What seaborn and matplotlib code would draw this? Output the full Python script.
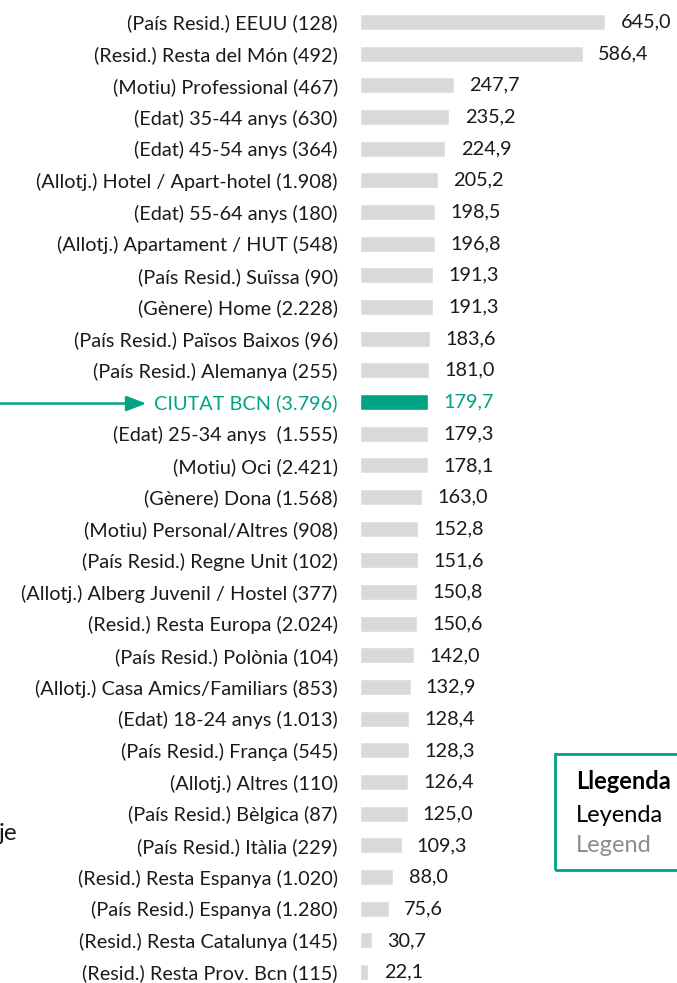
import numpy as np
import pandas as pd
import seaborn as sns
import matplotlib.pyplot as plt
from matplotlib.patches import Rectangle

labels = ['(País Resid.) EEUU (128)', '(Resid.) Resta del Món (492)', '(Motiu) Professional (467)',
          '(Edat) 35-44 anys (630)', '(Edat) 45-54 anys (364)', '(Allotj.) Hotel / Apart-hotel (1.908)',
          '(Edat) 55-64 anys (180)', '(Allotj.) Apartament / HUT (548)', '(País Resid.) Suïssa (90)',
          '(Gènere) Home (2.228)', '(País Resid.) Països Baixos (96)', '(País Resid.) Alemanya (255)',
          'CIUTAT BCN (3.796)', '(Edat) 25-34 anys  (1.555)', '(Motiu) Oci (2.421)',
          '(Gènere) Dona (1.568)', '(Motiu) Personal/Altres (908)', '(País Resid.) Regne Unit (102)',
          '(Allotj.) Alberg Juvenil / Hostel (377)', '(Resid.) Resta Europa (2.024)',
          '(País Resid.) Polònia (104)', '(Allotj.) Casa Amics/Familiars (853)', '(Edat) 18-24 anys (1.013)',
          '(País Resid.) França (545)', '(Allotj.) Altres (110)', '(País Resid.) Bèlgica (87)',
          '(País Resid.) Itàlia (229)', '(Resid.) Resta Espanya (1.020)', '(País Resid.) Espanya (1.280)',
          '(Resid.) Resta Catalunya (145)', '(Resid.) Resta Prov. Bcn (115)']
values = [645.0, 586.4, 247.7, 235.2, 224.9, 205.2, 198.5, 196.8, 191.3, 191.3, 183.6, 181.0,
          179.7, 179.3, 178.1, 163.0, 152.8, 151.6, 150.8, 150.6, 142.0, 132.9, 128.4, 128.3,
          126.4, 125.0, 109.3, 88.0, 75.6, 30.7, 22.1]
highlight = 'CIUTAT BCN (3.796)'
legend_lines = ['Llegenda', 'Leyenda', 'Legend']

teal = '#00A383'
grey = '#D9D9D9'

sns.set_style('white')
plt.rcParams['font.family'] = ['Lato', 'DejaVu Sans']

df = pd.DataFrame({'label': labels, 'value': values})
colors = {l: (teal if l == highlight else grey) for l in labels}

W, H = 677, 983
fig = plt.figure(figsize=(W / 100, H / 100), dpi=100)
# axes: x from 360px to right edge, rows ~31.67 px apart, first row at y=22
step = 31.67
top = 22 - step / 2
ax = fig.add_axes([360 / W, 1 - (top + 31 * step) / H, 1 - 360 / W, 31 * step / H])
sns.barplot(data=df, x='value', y='label', hue='label', palette=colors, legend=False,
            width=0.505, ax=ax, saturation=1)
ax.set_xlim(0, 317 / 0.38)
ax.set_ylim(len(labels) - 0.5, -0.5)
ax.set_xlabel('')
ax.set_ylabel('')
ax.set_xticks([])
sns.despine(ax=ax, left=True, bottom=True)
ax.tick_params(axis='y', length=0, pad=16, labelsize=14.3)
for t in ax.get_yticklabels():
    t.set_color(teal if t.get_text() == highlight else '#1a1a1a')

for cont, lab, v in zip(ax.containers, labels, values):
    ax.bar_label(cont, labels=[f'{v:.1f}'.replace('.', ',')], padding=11, fontsize=14.3,
                 color=teal if lab == highlight else '#1a1a1a')

# arrow pointing at the city label
fig.canvas.draw()
r = fig.canvas.get_renderer()
city = [t for t in ax.get_yticklabels() if t.get_text() == highlight][0]
bb = city.get_window_extent(r)
yc = (bb.y0 + bb.y1) / 2
ax.annotate('', xy=(bb.x0 - 8, yc), xytext=(0, yc), xycoords='figure pixels',
            textcoords='figure pixels',
            arrowprops=dict(arrowstyle='-|>,head_length=0.6,head_width=0.23', color=teal,
                            lw=1.8, mutation_scale=20, shrinkA=0, shrinkB=0))

fig.text(-0.002, 1 - 833 / H, 'je', fontsize=17.5, va='center', ha='left', color='#1a1a1a')

# legend box (cut off at right edge)
fig.add_artist(Rectangle((555 / W, 1 - 870 / H), 200 / W, 116 / H, transform=fig.transFigure,
                         fill=False, edgecolor=teal, lw=2))
for txt, base, col, wt in zip(legend_lines, [789, 822, 852], ['#000000', '#000000', '#8c8c8c'],
                              ['bold', 'normal', 'normal']):
    fig.text(576 / W, 1 - base / H, txt, fontsize=17, fontweight=wt, va='baseline', color=col)

fig.savefig('out.png', dpi=100)
